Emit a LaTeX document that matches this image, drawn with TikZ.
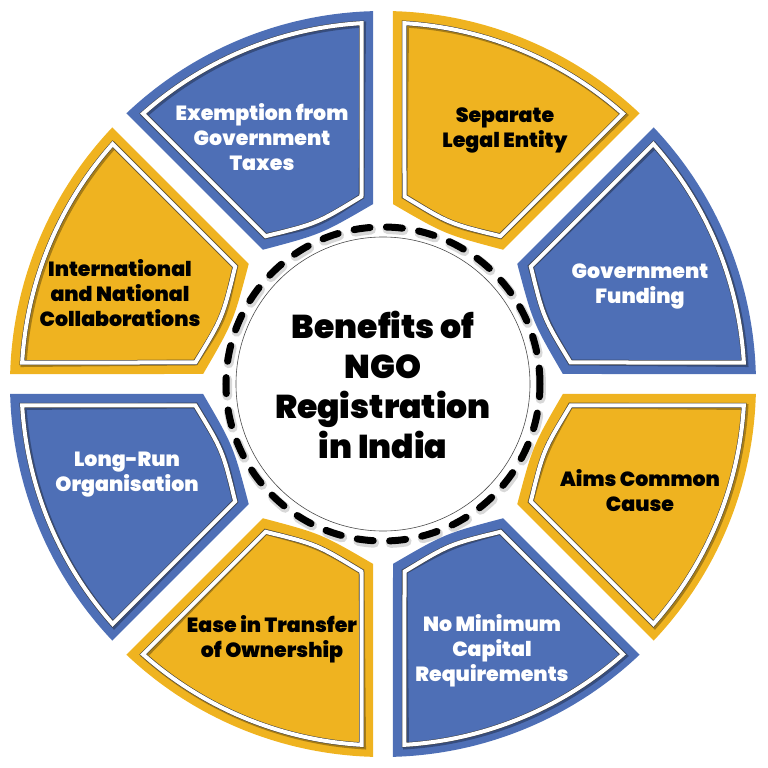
\documentclass[tikz,border=0pt]{standalone}
\usepackage{fontspec}
\usepackage{tikz}
\usetikzlibrary{calc}
\newfontfamily\popfont{Poppins}[BoldFont={Poppins Black}]
\definecolor{ngoyellow}{RGB}{239,179,32}
\definecolor{ngoblue}{RGB}{78,111,182}

% corners of one petal: start angle, side offset, outer radius, inner distance
\newcommand{\petalpath}[4]{%
\pgfmathsetmacro{\pa}{#1+asin(#2/#3)}%
\pgfmathsetmacro{\pb}{#1+45-asin(#2/#3)}%
\pgfmathsetmacro{\pt}{(#4-#2*sin(22.5))/cos(22.5)}%
\pgfmathsetmacro{\pc}{#4-8}%
\coordinate (inA) at ($({#1}:\pt)+({#1+90}:#2)$);%
\coordinate (inB) at ($({#1+45}:\pt)+({#1-45}:#2)$);%
}

\tikzset{
  frame/.style={draw=black!75, line width=0.5pt, double=white, double distance=4pt},
  frameshadow/.style={draw=black, opacity=0.3, line width=6pt},
  darktext/.style={font=\popfont\bfseries\fontsize{20.5}{25}\selectfont, align=center, text=black},
  lighttext/.style={font=\popfont\bfseries\fontsize{20.5}{25}\selectfont, align=center, text=white}
}

\begin{document}
\begin{tikzpicture}[x=1pt,y=1pt]
\useasboundingbox (-383,-384) rectangle (385,384);

% the eight petals
\foreach \ang/\col in {45/ngoyellow,0/ngoblue,-45/ngoyellow,-90/ngoblue,-135/ngoyellow,180/ngoblue,135/ngoyellow,90/ngoblue} {
  \petalpath{\ang}{10}{373}{170}
  \fill[\col] (\pa:373) arc[start angle=\pa, end angle=\pb, radius=373] -- (inB) .. controls ({\ang+22.5}:\pc) .. (inA) -- cycle;
  \petalpath{\ang}{21.5}{361.5}{181.5}
  \draw[frameshadow, shift={(1.5,-1.5)}] (\pa:361.5) arc[start angle=\pa, end angle=\pb, radius=361.5] -- (inB) .. controls ({\ang+22.5}:\pc) .. (inA) -- cycle;
  \draw[frame] (\pa:361.5) arc[start angle=\pa, end angle=\pb, radius=361.5] -- (inB) .. controls ({\ang+22.5}:\pc) .. (inA) -- cycle;
}

% centre
\fill[white] (0,0) circle (147);
\draw[gray!60, opacity=0.5, line width=10pt, dash pattern=on 16pt off 16.46pt, line cap=round, shift={(1,-2)}] (0,0) circle (157);
\draw[black, line width=7pt, dash pattern=on 16pt off 16.46pt, line cap=round] (0,0) circle (157);
\draw[black!70, line width=0.6pt] (0,0) circle (147);
\node[font=\popfont\bfseries\fontsize{33}{40}\selectfont, align=center] (title) at (0,-1) {Benefits of\\NGO\\Registration\\in India};

% petal texts
\node[darktext] (legal) at (122,254) {Separate\\Legal Entity};
\node[lighttext] (funding) at (257,97) {Government\\Funding};
\node[darktext] (cause) at (257,-107) {Aims Common\\Cause};
\node[lighttext] (capital) at (109,-267) {No Minimum\\Capital\\Requirements};
\node[darktext] (transfer) at (-111,-255) {Ease in Transfer\\of Ownership};
\node[lighttext] (longrun) at (-256,-91) {Long-Run\\Organisation};
\node[darktext] (collab) at (-263,91) {International\\and National\\Collaborations};
\node[lighttext] (taxes) at (-121,247) {Exemption from\\Government\\Taxes};
\end{tikzpicture}
\end{document}
